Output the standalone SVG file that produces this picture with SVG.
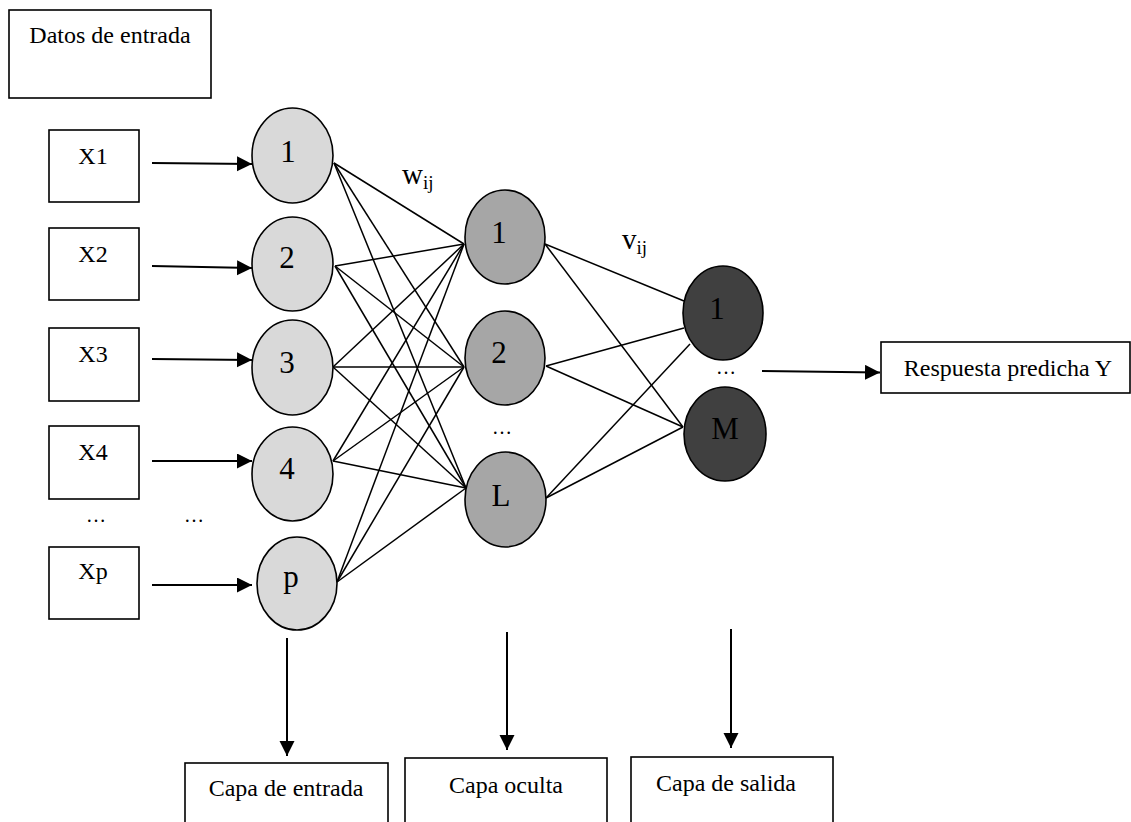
<svg xmlns="http://www.w3.org/2000/svg" width="1131" height="822" viewBox="0 0 1131 822">
<style>
text{font-family:"Liberation Serif","Times New Roman",serif;fill:#000}
.lbl{font-size:24px}
.num{font-size:31px;text-anchor:middle}
.box{fill:#fff;stroke:#000;stroke-width:1.6}
.in{fill:#d9d9d9;stroke:#000;stroke-width:1.6}
.hid{fill:#a6a6a6;stroke:#000;stroke-width:1.6}
.out{fill:#404040;stroke:#000;stroke-width:1.6}
.w{stroke:#000;stroke-width:1.5;fill:none}
.arr{stroke:#000;stroke-width:2;fill:none;marker-end:url(#ah)}
.dots{font-size:20px;text-anchor:middle}
</style>
<defs>
<marker id="ah" markerUnits="userSpaceOnUse" markerWidth="16" markerHeight="16" refX="15" refY="7.5" orient="auto">
<path d="M0,0 L15,7.5 L0,15 z" fill="#000"/>
</marker>
</defs>
<rect width="1131" height="822" fill="#fff"/>

<g id="connectors">
<g id="weights-w">
<line class="w" x1="334" y1="163" x2="464" y2="244"/>
<line class="w" x1="334" y1="163" x2="464" y2="367"/>
<line class="w" x1="334" y1="163" x2="466" y2="488"/>
<line class="w" x1="335" y1="266" x2="464" y2="244"/>
<line class="w" x1="335" y1="266" x2="464" y2="367"/>
<line class="w" x1="335" y1="266" x2="466" y2="488"/>
<line class="w" x1="333" y1="367" x2="464" y2="244"/>
<line class="w" x1="333" y1="367" x2="464" y2="367"/>
<line class="w" x1="333" y1="367" x2="466" y2="488"/>
<line class="w" x1="333" y1="461" x2="464" y2="244"/>
<line class="w" x1="333" y1="461" x2="464" y2="367"/>
<line class="w" x1="333" y1="461" x2="466" y2="488"/>
<line class="w" x1="337" y1="582" x2="464" y2="244"/>
<line class="w" x1="337" y1="582" x2="464" y2="367"/>
<line class="w" x1="337" y1="582" x2="466" y2="488"/>
</g>
<g id="weights-v">
<line class="w" x1="545" y1="244" x2="684" y2="301"/>
<line class="w" x1="545" y1="244" x2="683" y2="427"/>
<line class="w" x1="546" y1="366" x2="684" y2="328"/>
<line class="w" x1="546" y1="366" x2="683" y2="427"/>
<line class="w" x1="546" y1="498" x2="690" y2="344"/>
<line class="w" x1="546" y1="498" x2="683" y2="427"/>
</g>
<g id="arrows">
<line class="arr" x1="152" y1="163" x2="252" y2="164"/>
<line class="arr" x1="152" y1="266" x2="252" y2="268"/>
<line class="arr" x1="152" y1="359" x2="252" y2="360"/>
<line class="arr" x1="152" y1="461" x2="252" y2="461"/>
<line class="arr" x1="152" y1="585" x2="252" y2="585"/>
<line class="arr" x1="762" y1="371" x2="880" y2="372.5"/>
<line class="arr" x1="287" y1="638" x2="287" y2="756"/>
<line class="arr" x1="507" y1="632" x2="507" y2="750"/>
<line class="arr" x1="731" y1="629" x2="731" y2="748"/>
</g>
</g>

<g id="datos">
<rect class="box" x="9" y="10" width="202" height="88"/>
<text class="lbl" x="110" y="43" text-anchor="middle">Datos de entrada</text>
</g>

<g id="x1"><rect class="box" x="49" y="130" width="90" height="72"/><text class="lbl" x="93" y="164" text-anchor="middle">X1</text></g>
<g id="x2"><rect class="box" x="49" y="228" width="90" height="72"/><text class="lbl" x="93" y="262" text-anchor="middle">X2</text></g>
<g id="x3"><rect class="box" x="49" y="328" width="90" height="73"/><text class="lbl" x="93" y="362" text-anchor="middle">X3</text></g>
<g id="x4"><rect class="box" x="49" y="426" width="90" height="73"/><text class="lbl" x="93" y="460" text-anchor="middle">X4</text></g>
<g id="xp"><rect class="box" x="49" y="547" width="90" height="72"/><text class="lbl" x="93" y="579" text-anchor="middle">Xp</text></g>

<g id="dots-left">
<text class="dots" x="96" y="522">…</text>
<text class="dots" x="194" y="522">…</text>
</g>

<g id="in1"><ellipse class="in" cx="292.5" cy="155.5" rx="40.5" ry="47.5"/><text class="num" x="288" y="162">1</text></g>
<g id="in2"><ellipse class="in" cx="292.5" cy="264" rx="40.5" ry="47"/><text class="num" x="287" y="268">2</text></g>
<g id="in3"><ellipse class="in" cx="292.5" cy="367.5" rx="40.5" ry="47.5"/><text class="num" x="287" y="373">3</text></g>
<g id="in4"><ellipse class="in" cx="292.5" cy="474" rx="40.5" ry="47"/><text class="num" x="287" y="479">4</text></g>
<g id="inp"><ellipse class="in" cx="297" cy="583.5" rx="40" ry="46.5"/><text class="num" x="291" y="587">p</text></g>

<g id="h1"><ellipse class="hid" cx="505" cy="237" rx="40" ry="47"/><text class="num" x="499" y="243">1</text></g>
<g id="h2"><ellipse class="hid" cx="505" cy="358" rx="40" ry="47"/><text class="num" x="499" y="363">2</text></g>
<text class="dots" x="502" y="434">…</text>
<g id="hL"><ellipse class="hid" cx="505.5" cy="499.5" rx="40.5" ry="47.5"/><text class="num" x="501" y="506">L</text></g>

<g id="o1"><ellipse class="out" cx="723" cy="313" rx="40" ry="47"/><text class="num" x="717" y="319">1</text></g>
<text class="dots" x="726" y="374">…</text>
<g id="oM"><ellipse class="out" cx="725" cy="434" rx="41" ry="47"/><text class="num" x="725" y="439">M</text></g>

<g id="wlabel"><text x="402" y="184" style="font-size:29px">w<tspan dy="5" style="font-size:19px">ij</tspan></text></g>
<g id="vlabel"><text x="622" y="249" style="font-size:29px">v<tspan dy="5" style="font-size:19px">ij</tspan></text></g>

<g id="respuesta">
<rect class="box" x="881" y="342" width="249" height="51"/>
<text class="lbl" x="1008" y="376" text-anchor="middle">Respuesta predicha Y</text>
</g>

<g id="capa-entrada"><rect class="box" x="185" y="763" width="203" height="70"/><text class="lbl" x="286" y="796" text-anchor="middle">Capa de entrada</text></g>
<g id="capa-oculta"><rect class="box" x="405" y="758" width="202" height="75"/><text class="lbl" x="506" y="793" text-anchor="middle">Capa oculta</text></g>
<g id="capa-salida"><rect class="box" x="631" y="757" width="202" height="76"/><text class="lbl" x="726" y="791" text-anchor="middle">Capa de salida</text></g>
</svg>
